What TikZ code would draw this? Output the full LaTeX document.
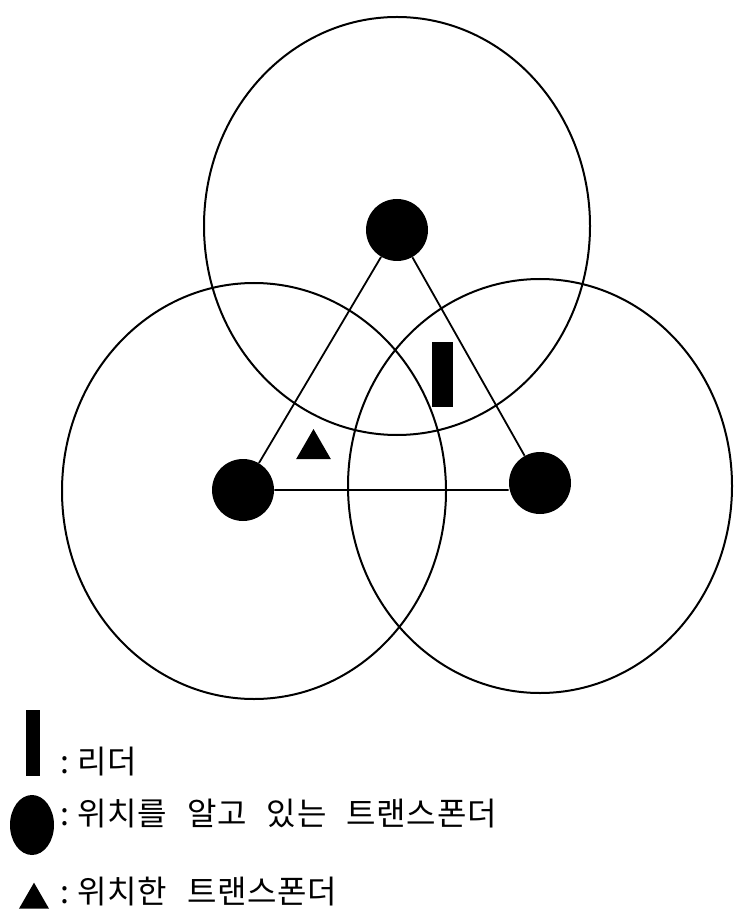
\documentclass[tikz,border=0pt]{standalone}
\usepackage{fontspec}
\newfontfamily\krfont[WordSpace=2.6,LetterSpace=2]{Noto Sans CJK KR}
\usetikzlibrary{positioning, shapes.geometric}

\begin{document}
\begin{tikzpicture}[
        x=0.5pt,
        y=-0.5pt,
        rangeline/.style={
            draw=black,
            line width=1pt
        },
        known/.style={
            circle,
            fill=black,
            minimum size=31pt,
            inner sep=0pt
        },
        leader/.style={
            rectangle,
            fill=black,
            minimum width=10.5pt,
            minimum height=32.5pt,
            inner sep=0pt
        },
        located/.style={
            isosceles triangle,
            isosceles triangle apex angle=60,
            shape border rotate=90,
            fill=black,
            minimum height=15pt,
            inner sep=0pt
        },
        legendtext/.style={
            anchor=west,
            inner sep=0pt,
            font=\krfont\fontsize{16pt}{18pt}\selectfont
        }
    ]

    \useasboundingbox (0,0) rectangle (735,924);

    % --------------------------------------------------------
    % Communication ranges
    % --------------------------------------------------------

    \draw[
        rangeline
    ]
    (397,226) ellipse [x radius=96.5pt, y radius=104.5pt];

    \draw[
        rangeline
    ]
    (254,491) ellipse [x radius=96pt, y radius=104pt];

    \draw[
        rangeline
    ]
    (540,486) ellipse [x radius=96pt, y radius=103.5pt];

    % --------------------------------------------------------
    % Transponders with known position
    % --------------------------------------------------------

    \node[
        known
    ]
    (top)
    at (397,230) {};

    \node[
        known
    ]
    (left)
    at (243,490) {};

    \node[
        known
    ]
    (right)
    at (540,483) {};

    \draw[
        line width=0.9pt
    ]
    (top) -- (left)
    (top) -- (right)
    (left.east) -- (left.east -| right.west);

    % --------------------------------------------------------
    % Leader and located transponder
    % --------------------------------------------------------

    \node[
        leader
    ]
    (lead)
    at (442.5,374.5) {};

    \node[
        located
    ]
    (loc)
    at (313.5,449) {};

    % --------------------------------------------------------
    % Legend
    % --------------------------------------------------------

    \node[
        leader,
        minimum width=7pt,
        minimum height=33pt
    ]
    (keylead)
    at (33,743) {};

    \node[
        legendtext
    ]
    (txtlead)
    at (60,762)
    {:\hspace{4pt}리더};

    \node[
        ellipse,
        fill=black,
        minimum width=22pt,
        minimum height=30pt,
        inner sep=0pt
    ]
    (keyknown)
    at (32,825) {};

    \node[
        legendtext
    ]
    (txtknown)
    at (60,814)
    {:\hspace{4pt}위치를 알고 있는 트랜스폰더};

    \node[
        located,
        minimum height=13pt
    ]
    (keyloc)
    at (34,900) {};

    \node[
        legendtext
    ]
    (txtloc)
    at (60,892)
    {:\hspace{4pt}위치한 트랜스폰더};

\end{tikzpicture}
\end{document}
